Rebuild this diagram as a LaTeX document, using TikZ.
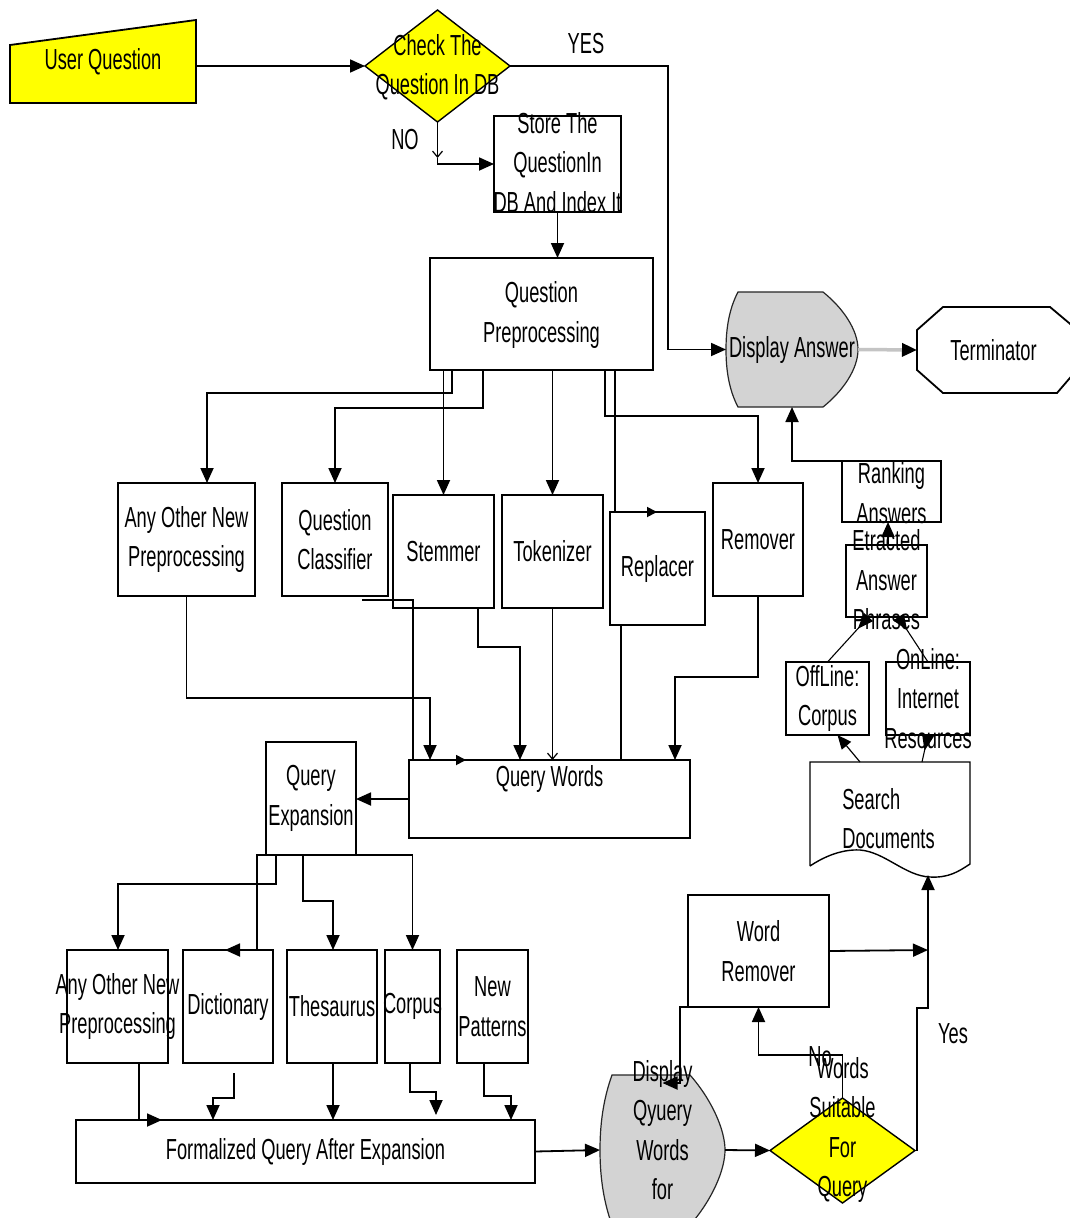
\documentclass[tikz,border=0pt]{standalone}
\usepackage{fontspec}
\setmainfont{Liberation Sans}[FakeStretch=0.63]
\usetikzlibrary{arrows.meta,shapes.geometric}
\definecolor{yel}{HTML}{FFFF00}
\definecolor{dgray}{HTML}{D3D3D3}
\definecolor{lgray}{HTML}{C4C4C4}
\begin{document}
\begin{tikzpicture}[x=1pt,y=-1pt,
  txt/.style={font=\fontsize{29}{39.5}\selectfont, align=center, inner sep=0pt},
  hold/.style={inner sep=0pt, outer sep=0pt},
  box/.style={draw, line width=1.8pt, inner sep=0pt, outer sep=0pt},
  dia/.style={diamond, draw, line width=1.4pt, fill=yel, inner sep=0pt, outer sep=0pt},
  ln/.style={line width=1.8pt},
  arr/.style={ln, -{Triangle[length=15pt,width=13pt]}},
  sarr/.style={ln, -{Triangle[length=10pt,width=10pt]}},
  barb/.style={line width=1.2pt, -{Straight Barb[length=6pt,width=10pt]}},
  rarr/.style={line width=1.1pt, -{Triangle[reversed,length=16pt,width=12pt]}},
]
\fill[white] (0,0) rectangle (1070,1218);
\useasboundingbox (0,0) rectangle (1070,1218);
\clip (0,0) rectangle (1070,1218);

% ---------- shapes ----------
\draw[ln, fill=yel] (10,45) -- (196,20) -- (196,103) -- (10,103) -- cycle;
\node[hold, txt, minimum width=186pt, minimum height=83pt] (uq) at (103,61.5) {User Question};

\node[dia, minimum width=145pt, minimum height=112pt,
  label={[txt,yshift=-1pt]center:{Check The\\Question In DB}}] (chk) at (437.5,66) {};

\node[box, minimum width=127pt, minimum height=96pt,
  label={[txt,yshift=1.5pt]center:{Store The\\QuestionIn\\DB And Index It}}] (store) at (557.5,164) {};

\node[box, minimum width=223pt, minimum height=112pt,
  label={[txt,yshift=-1pt]center:{Question\\Preprocessing}}] (qp) at (541.5,314) {};

\draw[line width=1.2pt, draw=black!85, fill=dgray] (738,292) -- (823,292)
  .. controls (843,308) and (858,330) .. (858,349.5)
  .. controls (858,369) and (843,391) .. (823,407) -- (738,407)
  .. controls (729,390) and (726,370) .. (726,349.5)
  .. controls (726,329) and (729,309) .. (738,292) -- cycle;
\node[hold, txt, minimum width=132pt, minimum height=115pt] (disp) at (792,349.5) {Display Answer};

\draw[ln] (917,330) -- (943,307) -- (1050,307) -- (1075,328) -- (1075,372) -- (1057,393) -- (943,393) -- (917,370) -- cycle;
\node[hold, txt, minimum width=153pt, minimum height=86pt] (term) at (993.5,350) {Terminator};

\node[box, minimum width=137pt, minimum height=113pt,
  label={[txt]center:{Any Other New\\Preprocessing}}] (ao1) at (186.5,539.5) {};
\node[box, minimum width=106pt, minimum height=113pt,
  label={[txt]center:{Question\\Classifier}}] (qc) at (335,539.5) {};
\node[box, minimum width=101pt, minimum height=113pt,
  label={[txt]center:{Stemmer}}] (stem) at (443.5,551.5) {};
\node[box, minimum width=101pt, minimum height=113pt,
  label={[txt]center:{Tokenizer}}] (tok) at (552.5,551.5) {};
\node[box, minimum width=95pt, minimum height=113pt,
  label={[txt]center:{Replacer}}] (rep) at (657.5,568.5) {};
\node[box, minimum width=90pt, minimum height=113pt,
  label={[txt]center:{Remover}}] (rem) at (758,539.5) {};

\node[box, minimum width=281pt, minimum height=78pt,
  label={[txt,yshift=20pt]center:{Query Words}}] (qw) at (549.5,799) {};
\node[box, minimum width=90pt, minimum height=113pt,
  label={[txt]center:{Query\\Expansion}}] (qe) at (311,798.5) {};

\node[box, minimum width=101pt, minimum height=113pt,
  label={[txt]center:{Any Other New\\Preprocessing}}] (ao2) at (117.5,1006.5) {};
\node[box, minimum width=90pt, minimum height=113pt,
  label={[txt]center:{Dictionary}}] (dict) at (228,1006.5) {};
\node[box, minimum width=90pt, minimum height=113pt,
  label={[txt]center:{Thesaurus}}] (thes) at (332,1006.5) {};
\node[box, minimum width=55pt, minimum height=113pt,
  label={[txt]center:{Corpus}}] (corp) at (412.5,1006.5) {};
\node[box, minimum width=71pt, minimum height=113pt,
  label={[txt]center:{New\\Patterns}}] (newp) at (492.5,1006.5) {};

\node[box, minimum width=459pt, minimum height=63pt,
  label={[txt]center:{Formalized Query After Expansion}}] (fq) at (305.5,1151.5) {};

\draw[line width=1.2pt, draw=black!85, fill=dgray] (612,1075) -- (690,1075)
  .. controls (712,1100) and (725,1130) .. (725,1150)
  .. controls (725,1170) and (712,1200) .. (690,1225) -- (612,1225)
  .. controls (603,1200) and (600,1175) .. (600,1150)
  .. controls (600,1125) and (603,1100) .. (612,1075) -- cycle;
\node[hold, minimum width=125pt, minimum height=150pt,
  label={[txt,yshift=20pt]center:{Display\\Qyuery\\Words\\for}}] (dq) at (662.5,1150) {};

\node[dia, minimum width=145pt, minimum height=105pt,
  label={[txt,yshift=20.5pt]center:{Words\\Suitable\\For\\Query}}] (ws) at (842.5,1150.5) {};

\node[box, minimum width=141pt, minimum height=112pt,
  label={[txt]center:{Word\\Remover}}] (wr) at (758.5,951) {};

\draw[line width=1.4pt] (810,866) -- (810,762) -- (970,762) -- (970,864)
  .. controls (958,872) and (948,878) .. (930,877)
  .. controls (905,876) and (885,852) .. (860,850)
  .. controls (840,849) and (822,858) .. (810,866);
\node[hold, minimum width=160pt, minimum height=113pt,
  label={[txt,align=left,xshift=-1.5pt]center:{Search\\Documents}}] (sd) at (890,818.5) {};

\node[box, minimum width=83pt, minimum height=73pt,
  label={[txt]center:{OffLine:\\Corpus}}] (off) at (827.5,698.5) {};
\node[box, minimum width=84pt, minimum height=73pt,
  label={[txt]center:{OnLine:\\Internet\\Resources}}] (onl) at (928,698.5) {};
\node[box, minimum width=81pt, minimum height=72pt,
  label={[txt,yshift=1pt]center:{Etracted\\Answer\\Phrases}}] (etr) at (886.5,581) {};
\node[box, minimum width=99pt, minimum height=61pt,
  label={[txt,yshift=-1.5pt]center:{Ranking\\Answers}}] (rank) at (891.5,491.5) {};

% ---------- labels ----------
\node[txt] (lyes) at (586,44) {YES};
\node[txt] (lno) at (405,140) {NO};
\node[txt] (lno2) at (820,1057) {No};
\node[txt] (lyes2) at (953,1034) {Yes};

% ---------- connectors ----------
\draw[arr] (uq.east |- chk.west) -- (chk.west);
\draw[arr] (chk.east) -- (668,66) -- (668,349.5) -- (disp.west);
\coordinate (nob) at (437.5,158);
\draw[barb] (chk.south) -- (nob);
\draw[arr] (nob) -- (nob |- store.west) -- (store.west);
\draw[arr] (store.south) -- (store.south |- qp.north);

\draw[arr] ([xshift=-89.5pt]qp.south) |- (207,393) -- ([xshift=20.5pt]ao1.north);
\draw[arr] ([xshift=-58.5pt]qp.south) |- (335,408) -- (qc.north);
\draw[arr] (qp.south -| stem.north) -- (stem.north);
\draw[arr] (qp.south -| tok.north) -- (tok.north);
\draw[arr] ([xshift=63.5pt]qp.south) |- (758,416) -- (rem.north);
\draw[sarr] ([xshift=73.5pt]qp.south) -- ([xshift=5pt]rep.north west) -- ([xshift=47pt]rep.north west);

\draw[arr] (ao1.south) |- (430,698) -- ([xshift=21pt]qw.north west);
\draw[sarr] ([xshift=27pt,yshift=-4pt]qc.south) -- (413,600) -- ([xshift=4pt]qw.north west) -- ([xshift=57pt]qw.north west);
\draw[arr] ([xshift=34.5pt]stem.south) |- (520,647) -- ([xshift=111pt]qw.north west);
\draw[barb] (tok.south) -- (tok.south |- qw.north);
\draw[ln] ([xshift=-36.5pt]rep.south) -- ([xshift=-36.5pt]rep.south |- qw.north);
\draw[arr] (rem.south) |- (675,677) -- ([xshift=-15pt]qw.north east);

\draw[arr] (qw.west) -- (qe.east |- qw.west);

\draw[arr] ([xshift=-35pt]qe.south) |- (118,884) -- ([xshift=0.5pt]ao2.north);
\draw[arr] (qe.south west) -- (257,855) -- (257,950) -- ([xshift=-3pt]dict.north);
\draw[arr] ([xshift=-8pt]qe.south) |- (333,901) -- ([xshift=1pt]thes.north);
\draw[arr] (qe.south east) -| (corp.north);

\draw[arr] ([xshift=21.5pt]ao2.south) -- ([xshift=63pt]fq.north west) -- ([xshift=86pt]fq.north west);
\draw[arr] ([xshift=6pt,yshift=-10pt]dict.south) |- (213,1098) -- ([xshift=137pt]fq.north west);
\draw[arr] ([xshift=1pt]thes.south) -- ([xshift=257pt]fq.north west);
\draw[arr] ([xshift=-2.5pt]corp.south) |- (436,1092) -- ([xshift=360pt,yshift=5pt]fq.north west);
\draw[arr] ([xshift=-8.5pt]newp.south) |- (511,1096) -- ([xshift=435pt]fq.north west);

\draw[arr] (fq.east) -- (dq.west);
\draw[arr] (dq.east) -- (ws.west);
\draw[arr] (ws.north) |- (758.5,1055) -- (wr.south);
\draw[arr] (wr.south west) -- (680,1007) -- (680,1083) -- ([yshift=-8pt]dq.north);
\coordinate (jn) at (928,950);
\draw[arr] (wr.east) -- (jn);
\draw[arr] (ws.east) -- (917,1150.5) -- (917,1008) -- (928,1008) -- ([xshift=38pt]sd.south);

\draw[line width=1.2pt, -{Triangle[length=14pt,width=12pt]}] ([xshift=-30pt]sd.north) -- ([xshift=10pt]off.south);
\draw[rarr] ([xshift=32pt]sd.north) -- (onl.south);
\draw[rarr] (off.north) -- ([xshift=-18pt]etr.south);
\draw[rarr] (onl.north) -- ([xshift=12pt]etr.south);
\draw[arr] ([xshift=1.5pt]etr.north) -- ([xshift=-3.5pt]rank.south);
\draw[arr] (rank.north west) -| (disp.south);

\draw[line width=3.5pt, lgray, -{Triangle[length=15pt,width=13pt,color=black,fill=black]}] (disp.east) -- (term.west);
\end{tikzpicture}
\end{document}
